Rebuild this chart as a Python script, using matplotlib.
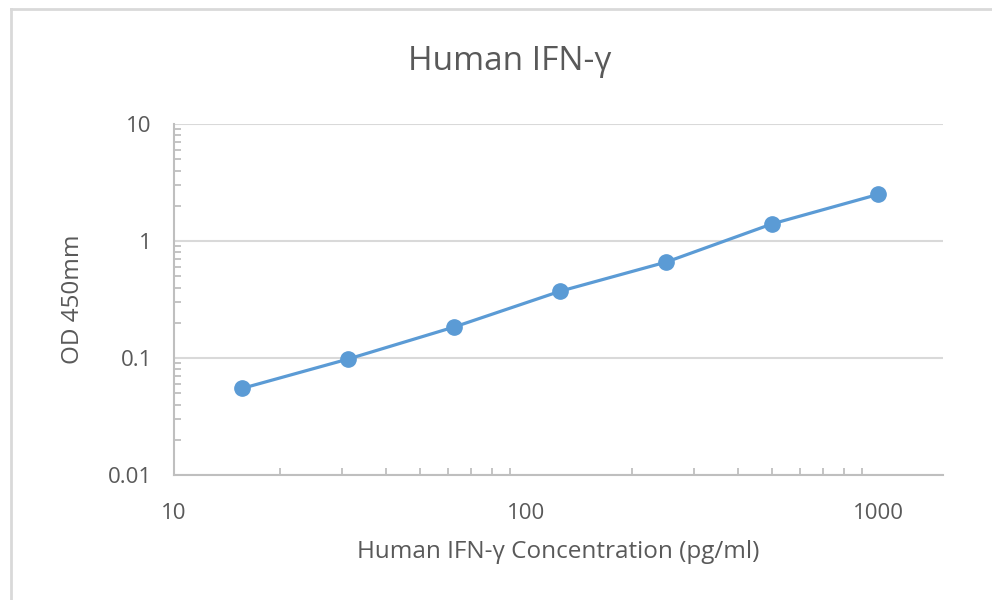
import numpy as np
import matplotlib
matplotlib.use("Agg")
import matplotlib.pyplot as plt
from matplotlib.lines import Line2D
from matplotlib.ticker import LogLocator, FixedFormatter, FixedLocator, NullFormatter

conc = [15.625, 31.25, 62.5, 125, 250, 500, 1000]
od = [0.055, 0.098, 0.184, 0.372, 0.66, 1.40, 2.50]

x_ticks = [10, 100, 1000]
x_labels = ["10", "100", "1000"]
y_ticks = [0.01, 0.1, 1, 10]
y_labels = ["0.01", "0.1", "1", "10"]

txt = "#595959"
grid = "#D9D9D9"
axis_c = "#BFBFBF"
blue = "#5B9BD5"

plt.rcParams['font.family'] = ['Open Sans', 'DejaVu Sans']

fig = plt.figure(figsize=(9.92, 6), dpi=100)
ax = fig.add_axes([174/992, 1-475/600, (943-174)/992, (475-124)/600])

ax.plot(conc, od, color=blue, lw=2.3, marker='o', ms=11, zorder=3, clip_on=False)

ax.set_xscale('log')
ax.set_yscale('log')
ax.set_xlim(10, 1530)
ax.set_ylim(0.01, 10)

ax.xaxis.set_major_locator(FixedLocator(x_ticks))
ax.xaxis.set_major_formatter(FixedFormatter(x_labels))
ax.yaxis.set_major_locator(FixedLocator(y_ticks))
ax.yaxis.set_major_formatter(FixedFormatter(y_labels))
ax.xaxis.set_minor_locator(LogLocator(base=10, subs=np.arange(2, 10)))
ax.yaxis.set_minor_locator(LogLocator(base=10, subs=np.arange(2, 10)))
ax.xaxis.set_minor_formatter(NullFormatter())
ax.yaxis.set_minor_formatter(NullFormatter())

ax.tick_params(which='major', length=0, labelsize=16, labelcolor=txt)
ax.tick_params(axis='x', which='major', pad=20)
ax.tick_params(axis='y', which='major', pad=16)
ax.tick_params(which='minor', direction='in', length=5, width=1.3, color=axis_c)

ax.yaxis.grid(True, which='major', color=grid, lw=1.5)
ax.set_axisbelow(True)
for s in ['top', 'right']:
    ax.spines[s].set_visible(False)
for s in ['left', 'bottom']:
    ax.spines[s].set_color(axis_c)
    ax.spines[s].set_linewidth(1.5)

fig.text(510/992, 1-62/600, "Human IFN-γ", fontsize=24, color=txt, ha='center', va='center')
ax.set_xlabel("Human IFN-γ Concentration (pg/ml)", fontsize=17.5, color=txt, labelpad=12)
ax.set_ylabel("OD 450mm", fontsize=17.5, color=txt, labelpad=16)

# chart-area border (left and top edges visible)
fig.add_artist(Line2D([11/992, 11/992], [0, 1-9/600], color="#D9D9D9", lw=2))
fig.add_artist(Line2D([11/992, 1], [1-9/600, 1-9/600], color="#D9D9D9", lw=2))

fig.savefig("out.png", dpi=100, facecolor='white')
